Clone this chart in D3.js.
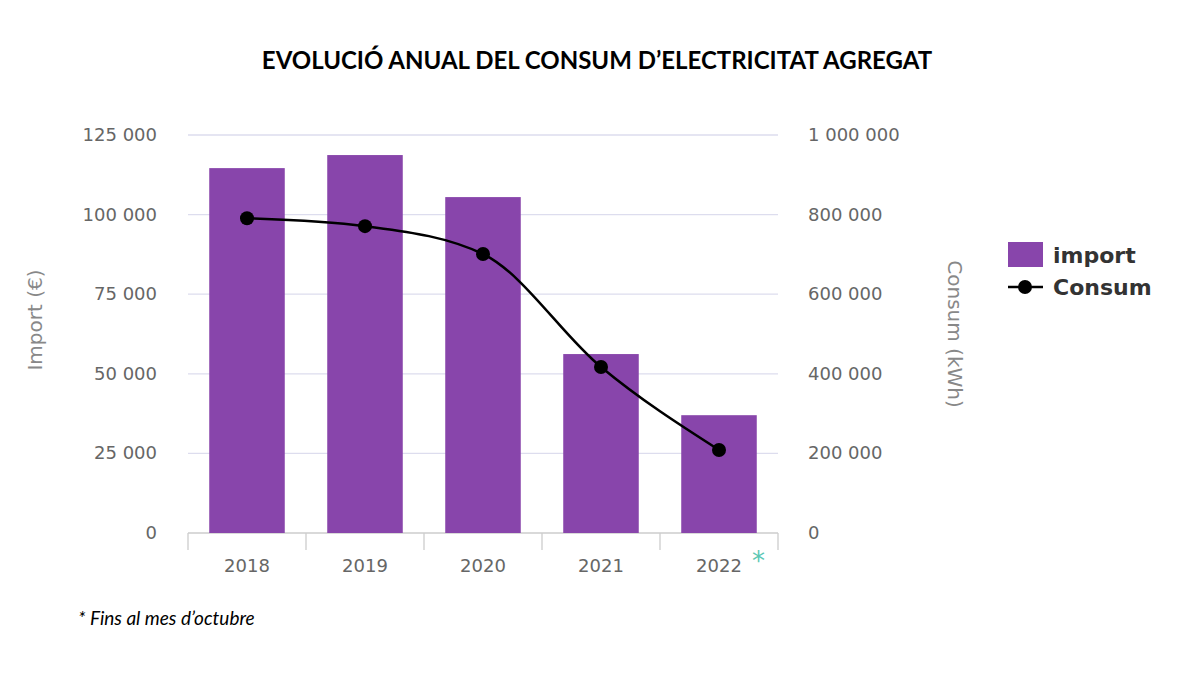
<!DOCTYPE html>
<html><head><meta charset="utf-8">
<script src="https://cdn.jsdelivr.net/npm/d3@7"></script>
<style>body{margin:0;background:#fff}</style>
</head><body>
<svg id="c" width="1200" height="675"></svg>
<script>
var years = ["2018", "2019", "2020", "2021", "2022"];
var importVals = [114600, 118700, 105500, 56200, 37000];
var consumVals = [791000, 771000, 701000, 417000, 208500];
var leftTicks = [0, 25000, 50000, 75000, 100000, 125000];
var rightTicks = [0, 200000, 400000, 600000, 800000, 1000000];

var svg = d3.select("#c");
var fmt = function(d){ return d3.format(",")(d).replace(/,/g, " "); };
var x = d3.scaleBand().domain(years).range([188, 778]).paddingInner(0.36).paddingOuter(0.18);
var xb = d3.scaleBand().domain(years).range([188, 778]);
var yl = d3.scaleLinear().domain([0, 125000]).range([533, 135]);
var yr = d3.scaleLinear().domain([0, 1000000]).range([533, 135]);
var gray = "#666";

svg.append("text").attr("x", 597).attr("y", 69).attr("text-anchor", "middle")
  .style("font", "bold 24px Lato, sans-serif").text("EVOLUCIÓ ANUAL DEL CONSUM D’ELECTRICITAT AGREGAT");

svg.selectAll(".grid").data(leftTicks).enter().append("line")
  .attr("x1", 188).attr("x2", 778).attr("y1", yl).attr("y2", yl)
  .attr("stroke", function(d){ return d === 0 ? "#ccc" : "#dde"; }).attr("stroke-width", 1.3);

svg.selectAll(".lt").data(leftTicks).enter().append("text")
  .attr("x", 157).attr("y", function(d){ return yl(d) + 6; }).attr("text-anchor", "end")
  .style("font", "18px 'DejaVu Sans', sans-serif").attr("fill", gray).text(fmt);
svg.selectAll(".rt").data(rightTicks).enter().append("text")
  .attr("x", 808).attr("y", function(d){ return yr(d) + 6; })
  .style("font", "18px 'DejaVu Sans', sans-serif").attr("fill", gray).text(fmt);

// band separators
svg.selectAll(".sep").data(years.concat(["end"])).enter().append("line")
  .attr("x1", function(d, i){ return i < 5 ? xb(d) : 778; })
  .attr("x2", function(d, i){ return i < 5 ? xb(d) : 778; })
  .attr("y1", 533).attr("y2", 550).attr("stroke", "#ccc").attr("stroke-width", 1.3);

svg.selectAll(".bar").data(importVals).enter().append("rect")
  .attr("x", function(d, i){ return x(years[i]); }).attr("width", x.bandwidth())
  .attr("y", yl).attr("height", function(d){ return 533 - yl(d); }).attr("fill", "#8845ab");

svg.selectAll(".xl").data(years).enter().append("text")
  .attr("x", function(d){ return xb(d) + xb.bandwidth() / 2; }).attr("y", 572).attr("text-anchor", "middle")
  .style("font", "18px 'DejaVu Sans', sans-serif").attr("fill", gray).text(function(d){ return d; });
svg.append("text").attr("x", 752).attr("y", 570).attr("fill", "#5bc8b4")
  .style("font", "26px 'DejaVu Sans', sans-serif").text("*");

var line = d3.line().x(function(d, i){ return xb(years[i]) + xb.bandwidth() / 2; }).y(yr).curve(d3.curveMonotoneX);
svg.append("path").datum(consumVals).attr("d", line).attr("fill", "none").attr("stroke", "#000").attr("stroke-width", 2.5);
svg.selectAll(".pt").data(consumVals).enter().append("circle")
  .attr("cx", function(d, i){ return xb(years[i]) + xb.bandwidth() / 2; }).attr("cy", yr).attr("r", 7).attr("fill", "#000");

svg.append("text").attr("transform", "translate(42,320) rotate(-90)").attr("text-anchor", "middle")
  .style("font", "20px 'DejaVu Sans', sans-serif").attr("fill", "#888").text("Import (€)");
svg.append("text").attr("transform", "translate(948,334) rotate(90)").attr("text-anchor", "middle")
  .style("font", "20px 'DejaVu Sans', sans-serif").attr("fill", "#888").text("Consum (kWh)");

svg.append("rect").attr("x", 1008).attr("y", 242).attr("width", 35).attr("height", 25).attr("fill", "#8845ab");
svg.append("text").attr("x", 1053).attr("y", 263).style("font", "bold 22px 'DejaVu Sans', sans-serif").attr("fill", "#333").text("import");
svg.append("line").attr("x1", 1008).attr("x2", 1043).attr("y1", 287).attr("y2", 287).attr("stroke", "#000").attr("stroke-width", 2.5);
svg.append("circle").attr("cx", 1025).attr("cy", 287).attr("r", 7).attr("fill", "#000");
svg.append("text").attr("x", 1053).attr("y", 295).style("font", "bold 22px 'DejaVu Sans', sans-serif").attr("fill", "#333").text("Consum");

svg.append("text").attr("x", 78).attr("y", 625).style("font", "italic 19px Lato, sans-serif").text("* Fins al mes d’octubre");
</script>
</body></html>
